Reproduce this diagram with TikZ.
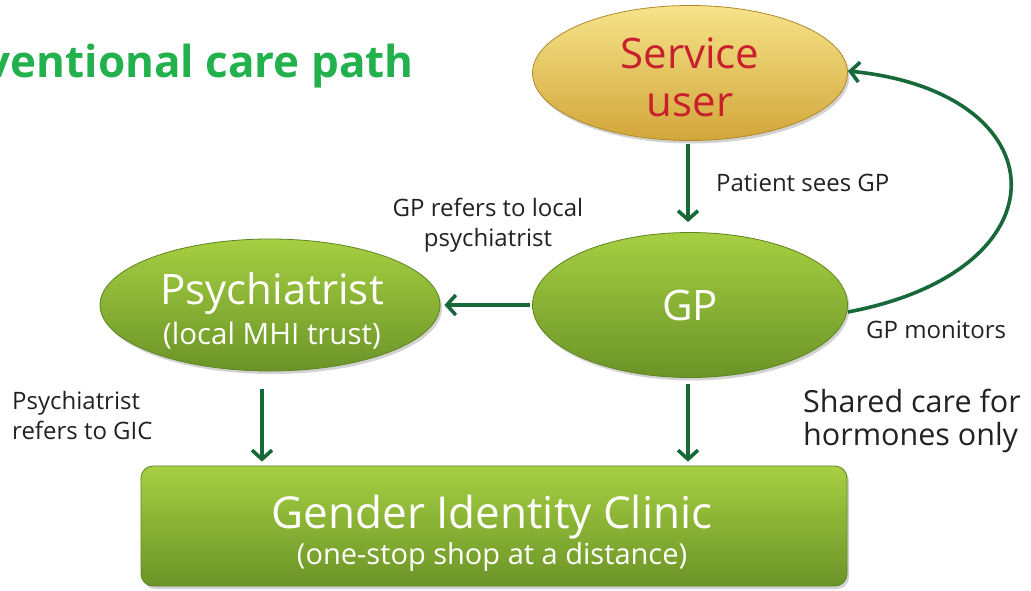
\documentclass[tikz,border=0pt]{standalone}
\usepackage{fontspec}
\setmainfont{Open Sans}
\usetikzlibrary{arrows.meta,shapes.geometric,shadows,calc}
\definecolor{titlegreen}{HTML}{22B14C}
\definecolor{arrowgreen}{HTML}{17693A}
\definecolor{gtop}{HTML}{A6CF42}
\definecolor{gbot}{HTML}{6B9428}
\definecolor{gedge}{HTML}{5E8420}
\definecolor{ytop}{HTML}{F6E38A}
\definecolor{ybot}{HTML}{D2A63A}
\definecolor{yedge}{HTML}{B08A2A}
\definecolor{sured}{HTML}{C8202C}
\definecolor{labelgray}{HTML}{222222}
\tikzset{
  greenell/.style={ellipse, top color=gtop, bottom color=gbot, draw=gedge, line width=0.8pt,
    drop shadow={shadow xshift=2pt, shadow yshift=-3pt, opacity=0.35},
    text=white, align=center, inner sep=0pt},
  goldell/.style={ellipse, top color=ytop, bottom color=ybot, draw=yedge, line width=0.8pt,
    drop shadow={shadow xshift=2pt, shadow yshift=-3pt, opacity=0.35},
    text=sured, align=center, inner sep=0pt},
  greenbox/.style={rectangle, rounded corners=12pt, top color=gtop, bottom color=gbot, draw=gedge, line width=0.8pt,
    drop shadow={shadow xshift=2pt, shadow yshift=-3pt, opacity=0.35},
    text=white, align=center, inner sep=0pt},
  flow/.style={draw=arrowgreen, line width=3.6pt, -{Straight Barb[length=9pt,width=20pt,line width=3.6pt]}},
  lbl/.style={text=labelgray, font=\fontsize{24}{30}\selectfont, inner sep=0pt},
}
\begin{document}
\begin{tikzpicture}[x=1pt,y=-1pt]
\useasboundingbox (0,0) rectangle (1031,590);
\clip (0,0) rectangle (1031,590);
\fill[white] (0,0) rectangle (1031,590);

\node[anchor=base east, text=titlegreen, font=\bfseries\fontsize{44}{50}\selectfont, inner sep=0pt] (title) at (414,77) {ventional care path};

\node[goldell, minimum width=315pt, minimum height=135pt, font=\fontsize{42}{48}\selectfont] (su) at (690,73) {};
\node[text=sured, font=\fontsize{42}{48}\selectfont, align=center, inner sep=0pt] (sut) at (690,77) {Service\\user};
\node[greenell, minimum width=315pt, minimum height=145pt, font=\fontsize{42}{46}\selectfont] (gp) at (690,305) {GP};
\node[greenell, minimum width=340pt, minimum height=132pt] (psy) at (270,305) {};
\node[text=white, align=center, inner sep=0pt] (psyt) at (272,311)
  {{\fontsize{42}{44}\selectfont Psychiatrist}\\[6pt]{\fontsize{29.5}{30}\selectfont (local MHI trust)}};
\node[greenbox, minimum width=706pt, minimum height=120pt] (gic) at (494,526) {};
\node[text=white, align=center, inner sep=0pt] (gict) at (492,533)
  {{\fontsize{44}{50}\selectfont Gender Identity Clinic}\\[2pt]{\fontsize{29}{34}\selectfont (one-stop shop at a distance)}};

\draw[flow, shorten <=3pt, shorten >=10pt] ([xshift=-2pt]su.south) -- ([xshift=-2pt]su.south |- gp.north);
\draw[flow, shorten <=2pt, shorten >=4pt] (gp.west) -- (psy.east);
\draw[flow, shorten <=18pt, shorten >=4pt] ([xshift=-8pt]psy.south) -- ([xshift=-8pt]psy.south |- gic.north);
\draw[flow, shorten <=6pt, shorten >=4pt] ([xshift=-2pt]gp.south) -- ([xshift=-2pt]gp.south |- gic.north);
\draw[flow] ([yshift=-7pt]gp.east) .. controls (1070,270) and (1060,92) .. ([yshift=2pt]su.east);

\node[lbl, anchor=west] (l1) at (716,183) {Patient sees GP};
\node[lbl, align=center] (l2) at (488,225) {GP refers to local\\psychiatrist};
\node[lbl, align=left, anchor=west] (l3) at (12,415) {Psychiatrist\\refers to GIC};
\node[lbl, anchor=west] (l4) at (866,330) {GP monitors};
\node[lbl, align=left, anchor=west, font=\fontsize{30.5}{33}\selectfont] (l5) at (803,421) {Shared care for\\hormones only};
\end{tikzpicture}
\end{document}
